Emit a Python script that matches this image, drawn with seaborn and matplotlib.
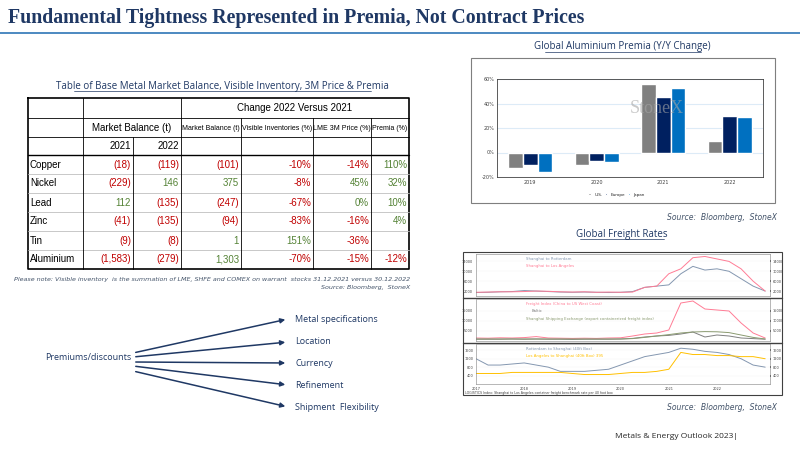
import numpy as np
import pandas as pd
import matplotlib
matplotlib.use("Agg")
import matplotlib.pyplot as plt
import seaborn as sns

sns.set_theme(style="white")
plt.rcParams['font.family'] = ['DejaVu Sans']

NAVY = "#1F3864"
RED = "#C00000"
GREEN = "#548235"

# ---- table data ----
metals = ["Copper", "Nickel", "Lead", "Zinc", "Tin", "Aluminium"]
bal_2021 = [-18, -229, 112, -41, -9, -1583]
bal_2022 = [-119, 146, -135, -135, -8, -279]
bal_change = [-101, 375, -247, -94, 1, 1303]
inv_change = [-10, -8, -67, -83, 151, -70]
price_change = [-14, 45, 0, -16, -36, -15]
premia_change = [110, 32, 10, 4, None, -12]

# ---- premia bar data ----
prem_years = ["2019", "2020", "2021", "2022"]
prem_us = [-13, -10, 56, 9]
prem_europe = [-10, -7, 45, 30]
prem_japan = [-16, -8, 53, 29]

# ---- freight data (quarterly, 2017 Q1 .. 2023 Q1) ----
sha_rotterdam = [1400, 1500, 1700, 1800, 2200, 2000, 1800, 1600, 1500, 1600, 1500, 1400, 1500,
                 1800, 3500, 4000, 4500, 9000, 12000, 10500, 11000, 10000, 7000, 4000, 2000]
sha_la = [1500, 1600, 1700, 1700, 1800, 2000, 1900, 1700, 1600, 1700, 1500, 1600, 1500,
          1600, 3500, 4000, 9000, 11000, 15500, 16000, 15000, 14000, 11000, 6000, 2000]
fi_china_uswc = [1500, 1400, 1600, 1500, 1700, 2200, 1500, 1400, 1300, 1400, 1300, 1500, 1600,
                 2500, 3500, 4000, 5500, 19000, 20000, 16000, 15500, 15000, 9000, 4000, 1500]
baltic = [900, 900, 900, 1000, 900, 1000, 900, 900, 800, 900, 900, 900, 1000,
          1300, 2000, 2500, 2800, 3500, 4500, 2000, 3000, 2500, 1500, 1200, 900]
scfi = [1000, 1000, 1000, 1000, 1000, 1000, 1000, 1000, 1000, 1000, 1000, 1000, 1000,
        1200, 1800, 2500, 3200, 4000, 4500, 4700, 4600, 4200, 3000, 1800, 1000]
rot_sha = [1200, 900, 900, 950, 1000, 900, 800, 600, 600, 600, 650, 700, 900,
           1100, 1300, 1400, 1500, 1700, 1650, 1550, 1500, 1400, 1200, 900, 800]
la_sha = [500, 500, 500, 550, 550, 550, 550, 550, 500, 450, 450, 450, 500,
          550, 550, 600, 700, 1500, 1400, 1400, 1350, 1350, 1300, 1300, 1200]
freight_t = 2017 + np.arange(len(sha_la)) * 0.25

W, H = 800, 450
fig = plt.figure(figsize=(8, 4.5), dpi=100)
bg = fig.add_axes([0, 0, 1, 1])
bg.set_xlim(0, W)
bg.set_ylim(H, 0)
bg.axis("off")


def fax(x0, y0, x1, y1):
    return fig.add_axes([x0 / W, 1 - y1 / H, (x1 - x0) / W, (y1 - y0) / H])


# title
bg.text(8, 18, "Fundamental Tightness Represented in Premia, Not Contract Prices",
        fontsize=14.3, fontweight="bold", color=NAVY, family="Liberation Serif", va="center")
bg.plot([0, 800], [33, 33], color="#2E75B6", lw=1.2)

# ---- table ----
bg.text(222, 86, "Table of Base Metal Market Balance, Visible Inventory, 3M Price & Premia",
        fontsize=7, color=NAVY, ha="center", va="center", family="Open Sans")
bg.plot([74, 371], [91, 91], color=NAVY, lw=0.5)
cols = [28, 83, 133, 181, 241, 313, 371, 409]
rows = [98, 118, 137, 155, 174, 193, 212, 231, 250, 269]
bg.plot([28, 409, 409, 28, 28], [98, 98, 269, 269, 98], color="black", lw=1.2)
for y in rows[1:-1]:
    bg.plot([28, 409], [y, y], color="#BFBFBF" if y > 155 else "black", lw=0.6)
bg.plot([28, 409], [155, 155], color="black", lw=1.0)
bg.plot([83, 83], [98, 269], color="black", lw=0.6)
bg.plot([181, 181], [98, 269], color="black", lw=0.6)
for x in [241, 313, 371]:
    bg.plot([x, x], [118, 269], color="black", lw=0.6)
bg.plot([133, 133], [137, 269], color="black", lw=0.6)

tk = dict(fontsize=7, va="center", color="black", family="Liberation Sans")
hk = dict(fontsize=5.0, va="center", color="black", family="Liberation Sans")
bg.text(295, 108, "Change 2022 Versus 2021", ha="center", **tk)
bg.text(132, 128, "Market Balance (t)", ha="center", **tk)
for x0, x1, lab in [(181, 241, "Market Balance (t)"), (241, 313, "Visible Inventories (%)"),
                    (313, 371, "LME 3M Price (%)"), (371, 409, "Premia (%)")]:
    bg.text((x0 + x1) / 2, 128, lab, ha="center", **hk)
bg.text(131, 146, "2021", ha="right", **tk)
bg.text(179, 146, "2022", ha="right", **tk)


def fmt_t(v):
    s = f"{abs(v):,}"
    return (f"({s})", RED) if v < 0 else (s, GREEN)


def fmt_p(v):
    if v is None:
        return "", "black"
    return f"{v}%", (RED if v < 0 else GREEN)


for i, m in enumerate(metals):
    y = (rows[3 + i] + rows[4 + i]) / 2
    bg.text(30, y, m, ha="left", **tk)
    vals = [fmt_t(bal_2021[i]), fmt_t(bal_2022[i]), fmt_t(bal_change[i]),
            fmt_p(inv_change[i]), fmt_p(price_change[i]), fmt_p(premia_change[i])]
    for j, (s, c) in enumerate(vals):
        d = dict(tk)
        d["color"] = c
        bg.text(cols[j + 2] - 2, y, s, ha="right", **d)

note = dict(fontsize=4.6, style="italic", color="#44546A", ha="right", va="center", family="DejaVu Sans")
bg.text(410, 280, "Please note: Visible inventory  is the summation of LME, SHFE and COMEX on warrant  stocks 31.12.2021 versus 30.12.2022", **note)
bg.text(410, 287, "Source: Bloomberg,  StoneX", **note)

# ---- premiums diagram ----
txt = dict(fontsize=6.5, color=NAVY, va="center", family="Open Sans")
bg.text(45, 358, "Premiums/discounts", **txt)
labels = ["Metal specifications", "Location", "Currency", "Refinement", "Shipment  Flexibility"]
ends = [319, 342, 363, 385, 407]
starts = [353, 357, 362, 366, 371]
for s, e, lab in zip(starts, ends, labels):
    bg.annotate("", xy=(288, e), xytext=(133, s),
                arrowprops=dict(arrowstyle="-|>", color=NAVY, lw=1.1, mutation_scale=7))
    bg.text(295, e, lab, **txt)

# ---- premia bar chart ----
bg.text(622, 47, "Global Aluminium Premia (Y/Y Change)", fontsize=7, color=NAVY,
        ha="center", va="center", family="Open Sans")
bg.plot([545, 701], [52, 52], color=NAVY, lw=0.5)
bg.add_patch(plt.Rectangle((471, 58), 304, 145, fill=False, ec="#7F7F7F", lw=0.8))

prem = pd.DataFrame({"year": prem_years * 3,
                     "val": prem_us + prem_europe + prem_japan,
                     "region": ["U.S."] * 4 + ["Europe"] * 4 + ["Japan"] * 4})
axb = fax(497, 79, 763, 177)
sns.barplot(data=prem, x="year", y="val", hue="region", ax=axb,
            palette=["#808080", "#002060", "#0070C0"], width=0.66, saturation=1)
axb.set_ylim(-20, 60)
axb.set_yticks([-20, 0, 20, 40, 60])
axb.set_yticklabels([f"{v}%" for v in [-20, 0, 20, 40, 60]])
axb.tick_params(labelsize=3.5, colors="#404040", length=0, pad=2)
axb.yaxis.grid(True, color="#DDEBF7", lw=0.8)
axb.set_axisbelow(True)
axb.set_xlabel("")
axb.set_ylabel("")
for sp in axb.spines.values():
    sp.set_color("#404040")
    sp.set_linewidth(0.6)
axb.text(0.5, 0.7, "StoneX", transform=axb.transAxes, fontsize=13, color="#A6A6A6",
         family="Liberation Serif", alpha=0.6, va="center")
axb.legend(loc="upper center", bbox_to_anchor=(0.45, -0.12), ncol=3, fontsize=3,
           frameon=False, handlelength=0.6, handleheight=0.6, columnspacing=0.6)
bg.text(777, 217, "Source:  Bloomberg,  StoneX", fontsize=5.5, style="italic",
        color="#44546A", ha="right", va="center", family="DejaVu Sans")

# ---- freight charts ----
bg.text(622, 234, "Global Freight Rates", fontsize=7, color=NAVY, ha="center",
        va="center", family="Open Sans")
bg.plot([580, 664], [239, 239], color=NAVY, lw=0.5)
bg.add_patch(plt.Rectangle((463, 252), 319, 143, fill=False, ec="#404040", lw=0.8))
panels = [
    (254, 296, [(sha_rotterdam, "#8497B0", "Shanghai to Rotterdam"),
                (sha_la, "#FF7C95", "Shanghai to Los Angeles")], 17000, [2000, 6000, 10000, 14000]),
    (299, 341, [(fi_china_uswc, "#FF7C95", "Freight Index (China to US West Coast)"),
                (baltic, "#7F7F7F", "Baltic"),
                (scfi, "#8A9A70", "Shanghai Shipping Exchange (export containerized freight index)")],
     21000, [5000, 10000, 15000]),
    (344, 384, [(rot_sha, "#8497B0", "Rotterdam to Shanghai (40ft Box)"),
                (la_sha, "#FFC000", "Los Angeles to Shanghai (40ft Box) 395")], 1900, [400, 800, 1200, 1600]),
]
for k, (y0, y1, series, top, yt) in enumerate(panels):
    ax = fax(476, y0, 770, y1)
    for vals, col, lab in series:
        sns.lineplot(x=freight_t, y=vals, ax=ax, color=col, lw=0.7)
    ax.set_xlim(2017, 2023.1)
    ax.set_ylim(0, top)
    ax.set_yticks(yt)
    ax.set_xticks([2017, 2018, 2019, 2020, 2021, 2022])
    ax.set_xticklabels(["2017", "2018", "2019", "2020", "2021", "2022"] if k == 2 else [])
    ax.yaxis.grid(True, color="#E0E0E0", lw=0.3, ls=":")
    ax.tick_params(labelsize=2.5, length=1, pad=1, colors="#404040")
    ax.tick_params(labelright=True, right=True)
    for sp in ax.spines.values():
        sp.set_linewidth(0.4)
        sp.set_color("#808080")
    for n, (vals, col, lab) in enumerate(series):
        ax.text(0.17 + (0.02 if k == 1 and n == 1 else 0), 0.85 - n * 0.17,
                lab, transform=ax.transAxes, fontsize=2.8, color=col)
    if k < 2:
        bg.plot([463, 782], [y1 + 1.5, y1 + 1.5], color="#404040", lw=1.0)
bg.text(465, 393, "LOGISTICS Index: Shanghai to Los Angeles container freight benchmark rate per 40 foot box", fontsize=2.3, color="#404040", va="center")
bg.text(777, 408, "Source:  Bloomberg,  StoneX", fontsize=5.5, style="italic",
        color="#44546A", ha="right", va="center", family="DejaVu Sans")

bg.text(615, 437, "Metals & Energy Outlook 2023|", fontsize=6, color="#262626",
        va="center", family="Open Sans")

fig.savefig("out.png", dpi=100)
